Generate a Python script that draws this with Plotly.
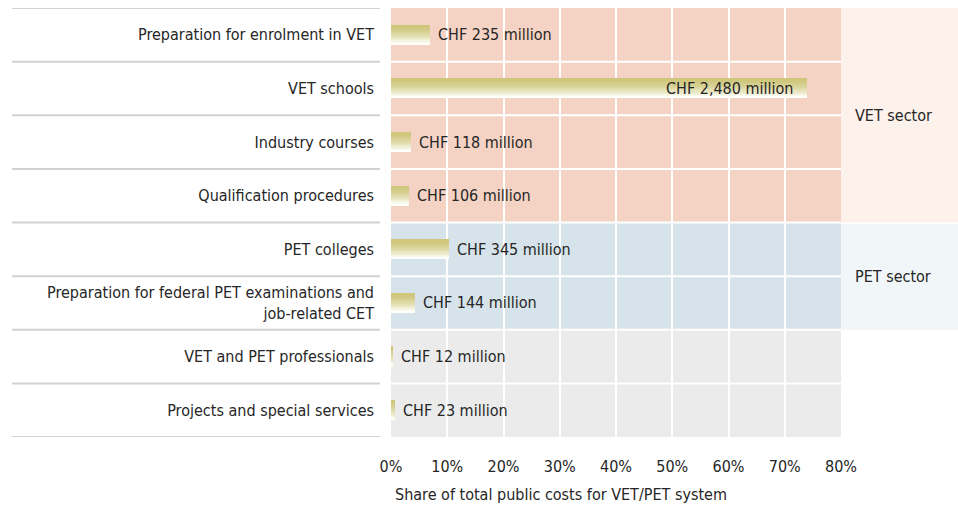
import plotly.graph_objects as go

categories = [
    "Preparation for enrolment in VET",
    "VET schools",
    "Industry courses",
    "Qualification procedures",
    "PET colleges",
    "Preparation for federal PET examinations and<br>job-related CET",
    "VET and PET professionals",
    "Projects and special services",
]
chf_millions = [235, 2480, 118, 106, 345, 144, 12, 23]
share_pct = [7.0, 74.0, 3.5, 3.2, 10.3, 4.3, 0.4, 0.7]
value_labels = ["CHF 235 million", "CHF 2,480 million", "CHF 118 million", "CHF 106 million",
                "CHF 345 million", "CHF 144 million", "CHF 12 million", "CHF 23 million"]
sectors = [("VET sector", 0, 3), ("PET sector", 4, 5), (None, 6, 7)]
x_ticks = [0, 10, 20, 30, 40, 50, 60, 70, 80]
x_title = "Share of total public costs for VET/PET system"

FONT = "Liberation Sans Narrow, DejaVu Sans Condensed, Arial Narrow, sans-serif"
TXT = "#262626"
row_bg = {"VET sector": "#f5d3c4", "PET sector": "#d7e3ea", None: "#ebebeb"}
panel_bg = {"VET sector": "#fdf1eb", "PET sector": "#f1f6f9"}

W, H = 958, 509
ML, MR, MT, MB = 391, 117, 8, 72
pw = W - ML - MR
ph = H - MT - MB

fig = go.Figure()

# gradient bars built from thin slices
N = 16
thick = 0.36
top = (206, 198, 122)
bot = (255, 255, 252)
for i in range(N):
    t = (i / (N - 1)) ** 1.6
    c = tuple(int(round(top[k] + (bot[k] - top[k]) * t)) for k in range(3))
    fig.add_trace(go.Bar(
        y=categories, x=share_pct, orientation="h",
        width=thick / N, offset=-thick / 2 + i * thick / N,
        marker=dict(color="rgb(%d,%d,%d)" % c, line=dict(width=0)),
        hoverinfo="skip", showlegend=False,
    ))

shapes = []
# row backgrounds
for name, a, b in sectors:
    shapes.append(dict(type="rect", xref="x", yref="y", x0=0, x1=80, y0=a - 0.5, y1=b + 0.5,
                       fillcolor=row_bg[name], line=dict(width=0), layer="below"))
    if name:
        shapes.append(dict(type="rect", xref="paper", yref="y", x0=1, x1=1 + MR / pw,
                           y0=a - 0.5 + (0.03 if a > 0 else 0), y1=b + 0.5,
                           fillcolor=panel_bg[name], line=dict(width=0), layer="below"))
# row separators
for i in range(len(categories) + 1):
    yb = i - 0.5
    shapes.append(dict(type="line", xref="paper", yref="y", x0=(12 - ML) / pw, x1=(380 - ML) / pw,
                       y0=yb, y1=yb, line=dict(color="#d2d2d2", width=2), layer="below"))
    if 0 < i < len(categories):
        shapes.append(dict(type="line", xref="x", yref="y", x0=0, x1=80, y0=yb, y1=yb,
                           line=dict(color="white", width=2), layer="below"))

annotations = []
for cat, s, lab in zip(categories, share_pct, value_labels):
    inside = s > 50
    annotations.append(dict(x=s, y=cat, xref="x", yref="y", text=lab, showarrow=False,
                            xanchor="right" if inside else "left", xshift=-12 if inside else 6,
                            font=dict(family=FONT, size=16, color=TXT)))
for name, a, b in sectors:
    if name:
        annotations.append(dict(x=1 + 12 / pw, y=(a + b) / 2, xref="paper", yref="y", text=name,
                                showarrow=False, xanchor="left",
                                font=dict(family=FONT, size=16, color=TXT)))
annotations.append(dict(x=0, y=-57 / ph, xref="paper", yref="paper", text=x_title,
                        showarrow=False, xanchor="left", yanchor="middle", xshift=2,
                        font=dict(family=FONT, size=16, color=TXT)))

fig.update_layout(
    width=W, height=H,
    margin=dict(l=ML, r=MR, t=MT, b=MB, pad=0),
    paper_bgcolor="white", plot_bgcolor="rgba(0,0,0,0)",
    barmode="overlay", bargap=0,
    shapes=shapes, annotations=annotations,
    font=dict(family=FONT, size=16, color=TXT),
    xaxis=dict(range=[0, 80], tickvals=x_ticks, ticktext=["%d%%" % v for v in x_ticks],
               showgrid=True, gridcolor="white", gridwidth=2, zeroline=False, showline=False,
               ticks="", ticklabelstandoff=18, tickfont=dict(family=FONT, size=16, color=TXT),
               fixedrange=True),
    yaxis=dict(range=[len(categories) - 0.5, -0.5], showgrid=False, zeroline=False, showline=False,
               ticks="", ticklabelstandoff=16, tickfont=dict(family=FONT, size=16, color=TXT),
               fixedrange=True),
)

fig.write_html("out.html", config={"displayModeBar": False},
               post_script="document.body.style.margin='0';document.body.style.overflow='hidden';")
